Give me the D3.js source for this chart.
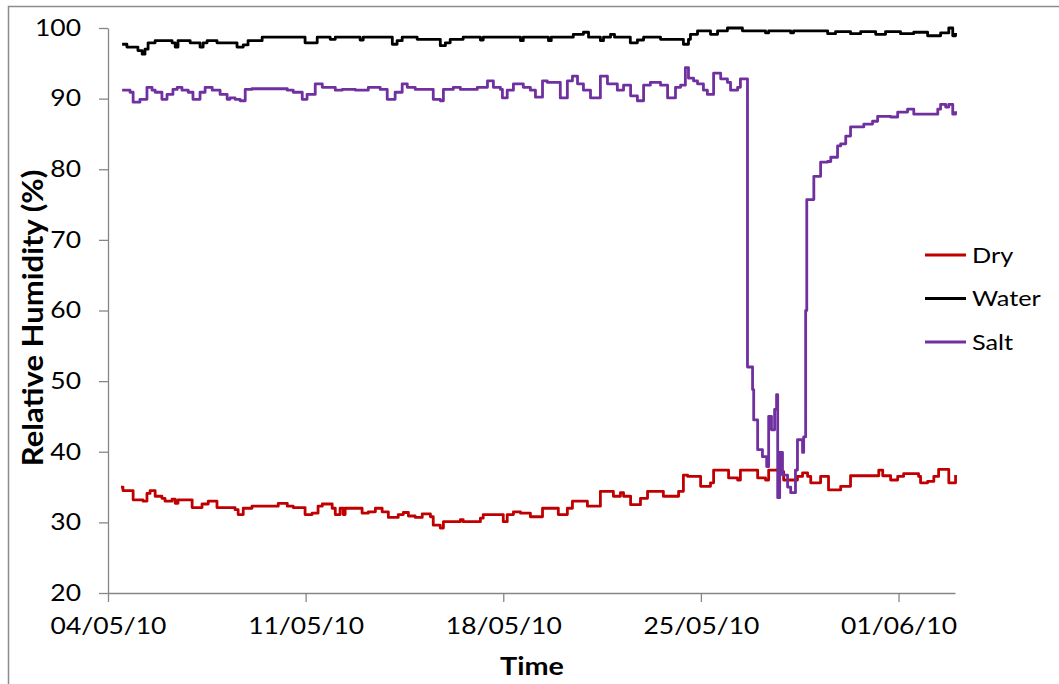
<!DOCTYPE html>
<html>
<head>
<meta charset="utf-8">
<script src="https://cdn.jsdelivr.net/npm/d3@7"></script>
<style>
  body { margin: 0; background: #fff; }
  text { font-family: Lato, "Open Sans", sans-serif; fill: #000; }
</style>
</head>
<body>
<div id="chart"></div>
<script>
// days since 04/05/10 00:00, relative humidity (%)
const dry = [
  [0.46, 35.0], [0.53, 34.5], [0.89, 33.2], [1.24, 33.0], [1.38, 34.1], [1.49, 34.5], [1.67, 33.7],
  [1.91, 33.4], [2.02, 33.0], [2.27, 33.3], [2.38, 32.7], [2.48, 33.2], [2.98, 32.1], [3.33, 32.6],
  [3.55, 33.0], [3.86, 32.1], [4.50, 31.8], [4.61, 31.1], [4.79, 32.0], [5.10, 32.3], [6.03, 32.7],
  [6.35, 32.3], [6.56, 32.1], [6.98, 31.1], [7.23, 31.3], [7.44, 32.3], [7.59, 32.6], [7.94, 32.0],
  [8.05, 31.1], [8.22, 32.0], [8.33, 31.1], [8.40, 32.0], [9.00, 31.3], [9.22, 31.5], [9.47, 32.0],
  [9.71, 31.5], [9.93, 30.7], [10.28, 31.1], [10.46, 31.4], [10.64, 30.9], [10.88, 30.7], [11.13, 31.2],
  [11.42, 30.8], [11.52, 29.6], [11.77, 29.2], [11.88, 30.1], [12.48, 30.4], [12.58, 30.1], [13.19, 30.6],
  [13.29, 31.1], [14.00, 30.1], [14.14, 31.1], [14.36, 31.5], [14.61, 31.3], [14.96, 30.8], [15.39, 32.0],
  [15.95, 31.1], [16.27, 32.0], [16.45, 33.0], [16.98, 32.3], [17.44, 34.4], [17.90, 33.7], [18.15, 34.2],
  [18.26, 33.7], [18.51, 32.5], [18.86, 33.4], [19.11, 34.4], [19.67, 33.7], [20.21, 34.4], [20.38, 36.7],
  [20.53, 36.5], [20.99, 35.1], [21.34, 35.6], [21.45, 37.4], [21.98, 36.3], [22.30, 36.0], [22.40, 37.4],
  [23.01, 36.3], [23.29, 36.0], [23.40, 37.4], [23.82, 37.2], [23.93, 36.0], [24.42, 36.5], [24.60, 37.0],
  [24.78, 36.5], [24.89, 35.6], [25.24, 36.5], [25.52, 34.6], [25.95, 35.1], [26.30, 36.6], [27.30, 37.4],
  [27.44, 36.6], [27.72, 36.0], [27.97, 36.5], [28.18, 36.9], [28.71, 36.5], [28.78, 35.6], [29.03, 35.8],
  [29.25, 36.5], [29.42, 37.5], [29.78, 35.6], [30.02, 36.7]
]
const water = [
  [0.50, 97.7], [0.67, 97.3], [1.06, 96.8], [1.21, 96.3], [1.31, 97.0], [1.42, 97.9], [1.67, 98.2],
  [2.27, 97.9], [2.38, 97.3], [2.48, 98.2], [2.91, 97.9], [3.26, 97.3], [3.37, 97.9], [3.51, 98.2],
  [3.86, 97.9], [4.57, 97.3], [4.79, 97.6], [4.96, 98.2], [5.46, 98.7], [6.98, 97.9], [7.41, 98.7],
  [7.87, 98.4], [8.05, 98.7], [8.93, 98.3], [9.04, 98.7], [10.07, 97.7], [10.24, 98.2], [10.42, 98.7],
  [10.95, 98.4], [11.77, 97.5], [11.95, 97.9], [12.12, 98.4], [12.58, 98.7], [13.19, 98.3], [13.29, 98.7],
  [14.61, 98.2], [14.71, 98.7], [15.60, 98.2], [15.70, 98.7], [16.48, 99.1], [16.84, 99.4], [17.02, 98.7],
  [17.44, 98.2], [17.55, 98.7], [17.80, 99.1], [17.94, 98.7], [18.50, 97.9], [18.75, 98.3], [18.97, 98.7],
  [19.57, 98.4], [20.38, 97.7], [20.56, 98.4], [20.63, 99.1], [20.88, 99.6], [21.34, 99.1], [21.59, 99.6],
  [21.94, 100.0], [22.47, 99.6], [23.29, 99.3], [23.40, 99.6], [24.18, 99.3], [24.28, 99.6], [25.49, 99.2],
  [25.77, 99.5], [26.30, 99.2], [26.66, 99.5], [27.19, 99.1], [27.54, 99.5], [28.07, 99.2], [28.54, 99.4],
  [29.03, 98.9], [29.49, 99.3], [29.78, 100.0], [29.92, 98.9], [30.02, 99.3]
]
const salt = [
  [0.50, 91.2], [0.78, 90.9], [0.89, 89.5], [1.13, 89.9], [1.38, 91.6], [1.56, 91.2], [1.67, 90.9],
  [1.91, 89.9], [2.09, 90.6], [2.30, 91.3], [2.45, 91.6], [2.62, 91.2], [2.84, 90.9], [3.01, 89.9],
  [3.26, 90.9], [3.44, 91.6], [3.69, 91.2], [3.97, 90.6], [4.22, 89.9], [4.32, 90.1], [4.50, 89.9],
  [4.68, 89.7], [4.86, 91.3], [5.10, 91.4], [6.35, 91.2], [6.56, 90.9], [6.88, 89.9], [7.05, 90.6],
  [7.34, 92.1], [7.59, 91.6], [8.05, 91.2], [8.30, 91.3], [8.76, 91.2], [9.22, 91.6], [9.64, 91.3],
  [9.89, 89.9], [10.17, 90.9], [10.42, 92.1], [10.60, 91.6], [10.88, 91.3], [11.52, 89.9], [11.77, 89.7],
  [11.88, 91.3], [12.23, 91.6], [12.48, 91.3], [13.08, 91.6], [13.44, 92.5], [13.65, 91.6], [13.90, 91.3],
  [13.97, 90.1], [14.14, 91.2], [14.36, 92.1], [14.71, 91.6], [14.96, 91.2], [15.14, 90.2], [15.39, 92.5],
  [15.56, 92.3], [16.02, 90.1], [16.27, 92.5], [16.45, 93.2], [16.63, 92.1], [16.84, 91.2], [17.09, 90.1],
  [17.44, 93.2], [17.69, 92.1], [18.04, 91.2], [18.26, 91.9], [18.51, 90.4], [18.75, 89.7], [18.97, 91.9],
  [19.21, 92.3], [19.57, 91.9], [19.82, 90.1], [20.10, 91.6], [20.28, 91.9], [20.45, 94.4], [20.56, 92.9],
  [20.74, 92.5], [20.88, 92.1], [21.09, 91.2], [21.23, 90.6], [21.45, 93.6], [21.70, 92.8], [21.94, 92.3],
  [22.05, 91.2], [22.30, 91.6], [22.40, 92.8], [22.65, 52.0], [22.83, 48.8], [22.87, 44.5], [23.01, 40.3],
  [23.18, 39.3], [23.33, 37.9], [23.40, 45.0], [23.50, 43.1], [23.61, 46.0], [23.68, 48.1], [23.72, 33.5],
  [23.79, 39.9], [23.89, 36.7], [24.07, 35.0], [24.18, 34.2], [24.35, 37.4], [24.42, 41.7], [24.60, 39.9],
  [24.64, 42.1], [24.71, 60.0], [24.75, 75.7], [25.00, 79.0], [25.24, 81.0], [25.49, 81.1], [25.60, 81.7],
  [25.84, 83.3], [25.95, 83.6], [26.13, 84.7], [26.30, 86.0], [26.77, 86.4], [27.08, 86.8], [27.26, 87.5],
  [27.72, 87.4], [27.97, 88.1], [28.32, 88.5], [28.54, 87.8], [29.39, 88.5], [29.49, 89.2], [29.67, 88.8],
  [29.78, 89.2], [29.92, 87.8], [30.02, 88.2]
]

const seriesNames = ["Dry", "Water", "Salt"]
const seriesColors = ["#c00000", "#000000", "#7030a0"]
const tickDays = [0, 7, 14, 21, 28]
const tickLabels = ["04/05/10", "11/05/10", "18/05/10", "25/05/10", "01/06/10"]
const yTicks = [20, 30, 40, 50, 60, 70, 80, 90, 100]

const width = 1059, height = 684
const plotLeft = 108, plotRight = 955, plotTop = 28, plotBottom = 593
const stretch = 1.15 // the reference text is drawn a little wide

const start = new Date(2010, 4, 4)
const toDate = d => new Date(start.getTime() + d * 864e5)

const x = d3.scaleTime()
            .domain([start, toDate(30)])
            .range([plotLeft, plotRight])
const y = d3.scaleLinear()
            .domain([20, 100])
            .range([plotBottom, plotTop])

const svg = d3.select("#chart")
              .append("svg")
              .attr("width", width)
              .attr("height", height)

// chart frame
svg.append("rect")
   .attr("x", 8.5).attr("y", 6.5)
   .attr("width", 1100).attr("height", 700)
   .attr("fill", "none")
   .attr("stroke", "#8c8c8c")
   .attr("stroke-width", 1.5)

const xAxis = d3.axisBottom(x)
                .tickValues(tickDays.map(toDate))
                .tickFormat((d, i) => tickLabels[i])
                .tickSizeInner(9)
                .tickSizeOuter(0)
                .tickPadding(16)
const yAxis = d3.axisLeft(y)
                .tickValues(yTicks)
                .tickSizeInner(9)
                .tickSizeOuter(0)

const gx = svg.append("g")
              .attr("transform", "translate(0," + plotBottom + ")")
              .call(xAxis)
gx.selectAll("text")
  .attr("font-size", 23)
  .attr("transform", "scale(" + stretch + ",1)")

const gy = svg.append("g")
              .attr("transform", "translate(" + plotLeft + ",0)")
              .call(yAxis)
gy.selectAll("text")
  .attr("font-size", 23)
  .attr("x", 0)
  .attr("transform", "translate(-27,0) scale(" + stretch + ",1)")

svg.selectAll(".domain, .tick line")
   .attr("stroke", "#868686")
   .attr("stroke-width", 1.3)
svg.selectAll(".tick text").style("font-family", "Lato, sans-serif").attr("fill", "#000")

// series
const line = d3.line()
               .x(d => x(toDate(d[0])))
               .y(d => y(d[1]))
               .curve(d3.curveStepAfter)

;[dry, water, salt].forEach((s, i) => {
  svg.append("path")
     .datum(s)
     .attr("fill", "none")
     .attr("stroke", seriesColors[i])
     .attr("stroke-width", 2.8)
     .attr("stroke-linejoin", "round")
     .attr("d", line)
})

// legend
const legend = svg.append("g").attr("transform", "translate(925,255)")
seriesNames.forEach((name, i) => {
  const g = legend.append("g").attr("transform", "translate(0," + (i * 43.5) + ")")
  g.append("line")
   .attr("x1", 0).attr("x2", 41)
   .attr("stroke", seriesColors[i])
   .attr("stroke-width", 2.8)
  g.append("text")
   .attr("transform", "translate(47,0) scale(" + stretch + ",1)")
   .attr("dy", "0.36em")
   .attr("font-size", 22)
   .text(name)
})

// axis titles
svg.append("text")
   .attr("transform", "translate(532,675) scale(" + stretch + ",1)")
   .attr("text-anchor", "middle")
   .attr("font-size", 25)
   .attr("font-weight", "bold")
   .text("Time")
svg.append("text")
   .attr("transform", "translate(43,318) rotate(-90) scale(" + stretch + ",1.08)")
   .attr("text-anchor", "middle")
   .attr("font-size", 27)
   .attr("font-weight", "bold")
   .text("Relative Humidity (%)")
</script>
</body>
</html>
